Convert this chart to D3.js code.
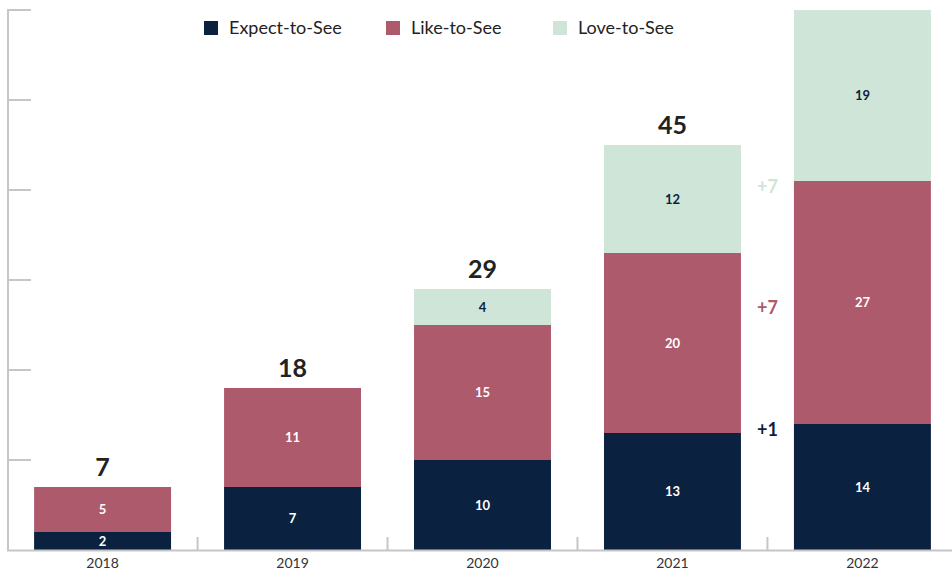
<!DOCTYPE html>
<html>
<head>
<meta charset="utf-8">
<script src="https://cdn.jsdelivr.net/npm/d3@7"></script>
<style>
  html, body { margin: 0; padding: 0; background: #fff; }
  svg { display: block; font-family: Lato, "Open Sans", sans-serif; }
</style>
</head>
<body>
<svg id="chart" width="952" height="569"></svg>
<script>
const years = ["2018", "2019", "2020", "2021", "2022"];
const seriesNames = ["Expect-to-See", "Like-to-See", "Love-to-See"];
const expectToSee = [2, 7, 10, 13, 14];
const likeToSee = [5, 11, 15, 20, 27];
const loveToSee = [0, 0, 4, 12, 19];
const yTicks = [0, 10, 20, 30, 40, 50, 60];

const colors = ["#0a2240", "#ad5a6c", "#cfe5d8"];
const labelColors = ["#ffffff", "#ffffff", "#0a2240"];
const axisColor = "#c6c6c8";

const svg = d3.select("#chart");
const width = 952;

const rows = years.map((year, i) => ({
  year,
  "Expect-to-See": expectToSee[i],
  "Like-to-See": likeToSee[i],
  "Love-to-See": loveToSee[i]
}));
const total = d => d["Expect-to-See"] + d["Like-to-See"] + d["Love-to-See"];

const stacked = d3.stack().keys(seriesNames)(rows);

const x = d3.scaleBand()
  .domain(years)
  .range([7.5, 957.5])
  .paddingInner(0.279)
  .paddingOuter(0.14);

const y = d3.scaleLinear()
  .domain([0, 60])
  .range([550, 10]);

// y axis: line with inward ticks
const yAxis = svg.append("g");
yAxis.append("line")
  .attr("x1", 8).attr("x2", 8)
  .attr("y1", y(60) - 1).attr("y2", y(0))
  .attr("stroke", axisColor).attr("stroke-width", 2);
yAxis.selectAll("line.tick")
  .data(yTicks.slice(1))
  .join("line")
  .attr("class", "tick")
  .attr("x1", 7).attr("x2", 31)
  .attr("y1", d => y(d)).attr("y2", d => y(d))
  .attr("stroke", axisColor).attr("stroke-width", 2);

// bars
const layer = svg.append("g")
  .selectAll("g")
  .data(stacked)
  .join("g")
  .attr("fill", (d, i) => colors[i]);

layer.selectAll("rect")
  .data(d => d.filter(s => s[1] - s[0] > 0))
  .join("rect")
  .attr("x", d => x(d.data.year))
  .attr("width", x.bandwidth())
  .attr("y", d => y(d[1]))
  .attr("height", d => y(d[0]) - y(d[1]));

// segment labels
stacked.forEach((series, i) => {
  svg.append("g")
    .selectAll("text")
    .data(series.filter(s => s[1] - s[0] > 0))
    .join("text")
    .attr("x", d => x(d.data.year) + x.bandwidth() / 2)
    .attr("y", d => (y(d[0]) + y(d[1])) / 2)
    .attr("dy", "0.35em")
    .attr("text-anchor", "middle")
    .attr("font-size", 13)
    .attr("font-weight", 700)
    .attr("fill", labelColors[i])
    .text(d => d[1] - d[0]);
});

// totals
svg.append("g")
  .selectAll("text")
  .data(rows)
  .join("text")
  .attr("x", d => x(d.year) + x.bandwidth() / 2)
  .attr("y", d => y(total(d)) - 20)
  .attr("dy", "0.35em")
  .attr("text-anchor", "middle")
  .attr("font-size", 25)
  .attr("font-weight", 700)
  .attr("fill", "#222")
  .text(d => total(d));

// x axis
const xAxis = svg.append("g");
xAxis.append("line")
  .attr("x1", 7).attr("x2", width)
  .attr("y1", 550.5).attr("y2", 550.5)
  .attr("stroke", axisColor).attr("stroke-width", 2);
xAxis.selectAll("line.tick")
  .data(years.slice(1))
  .join("line")
  .attr("class", "tick")
  .attr("x1", d => x(d) - x.step() * x.paddingInner() / 2)
  .attr("x2", d => x(d) - x.step() * x.paddingInner() / 2)
  .attr("y1", 537).attr("y2", 551)
  .attr("stroke", axisColor).attr("stroke-width", 2);
xAxis.selectAll("text")
  .data(years)
  .join("text")
  .attr("x", d => x(d) + x.bandwidth() / 2)
  .attr("y", 568)
  .attr("text-anchor", "middle")
  .attr("font-size", 14)
  .attr("fill", "#333")
  .text(d => d);

// year-over-year change 2021 -> 2022
const last = rows.length - 1;
const prevTotal = total(rows[last - 1]);
const gapX = x(years[last]) - x.step() * x.paddingInner() / 2;
svg.append("g")
  .selectAll("text")
  .data(seriesNames)
  .join("text")
  .attr("x", gapX)
  .attr("y", (d, i) => y(prevTotal * 0.3 * (i + 1)))
  .attr("dy", "0.4em")
  .attr("text-anchor", "middle")
  .attr("font-size", 18)
  .attr("font-weight", 700)
  .attr("fill", (d, i) => colors[i])
  .text(d => {
    const diff = rows[last][d] - rows[last - 1][d];
    return (diff >= 0 ? "+" : "") + diff;
  });

// legend
const legendX = [204, 386, 553];
const legend = svg.append("g")
  .selectAll("g")
  .data(seriesNames)
  .join("g")
  .attr("transform", (d, i) => `translate(${legendX[i]},21)`);
legend.append("rect")
  .attr("width", 14).attr("height", 14)
  .attr("fill", (d, i) => colors[i]);
legend.append("text")
  .attr("x", 25)
  .attr("y", 7)
  .attr("dy", "0.35em")
  .attr("font-size", 18)
  .attr("fill", "#222")
  .text(d => d);
</script>
</body>
</html>
